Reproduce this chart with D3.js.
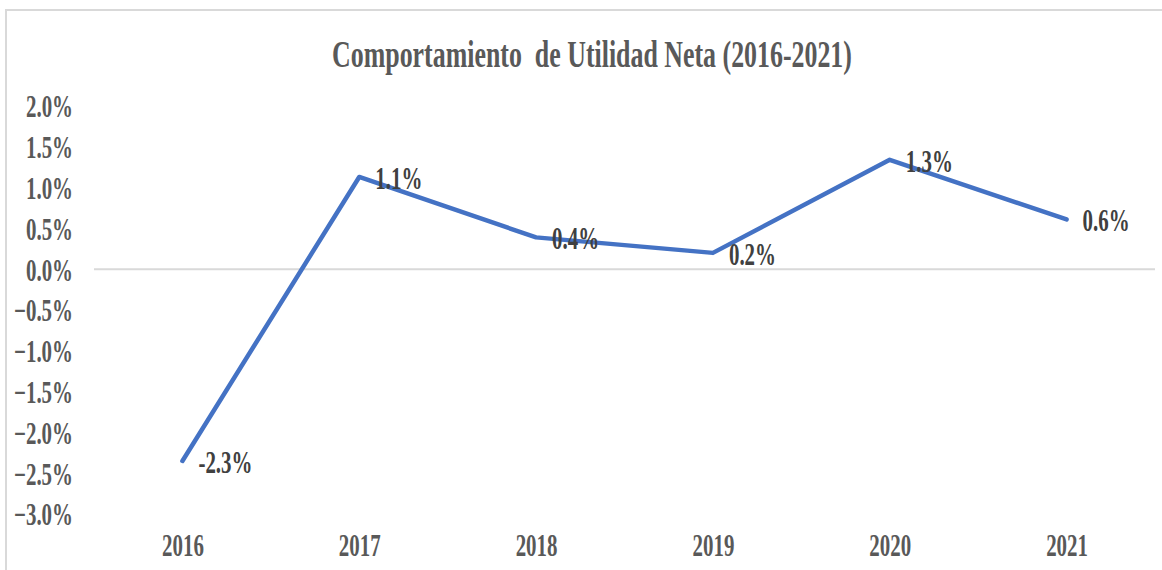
<!DOCTYPE html>
<html>
<head>
<meta charset="utf-8">
<script src="https://cdn.jsdelivr.net/npm/d3@7"></script>
<style>
  body { margin: 0; background: #fff; }
  svg { display: block; }
</style>
</head>
<body>
<svg id="chart" width="1162" height="570"></svg>
<script>
// data
var years = ["2016", "2017", "2018", "2019", "2020", "2021"];
var utilidad = [-2.35, 1.13, 0.39, 0.2, 1.34, 0.61];
var labels = ["-2.3%", "1.1%", "0.4%", "0.2%", "1.3%", "0.6%"];
var yTicks = [2.0, 1.5, 1.0, 0.5, 0.0, -0.5, -1.0, -1.5, -2.0, -2.5, -3.0];
var title = "Comportamiento\u00a0 de Utilidad Neta (2016-2021)";

var width = 1162, height = 570;
var font = "'Times New Roman', 'Liberation Serif', serif";
var sx = 0.675; // text in the source is squeezed horizontally
var fs = "31px";

var svg = d3.select("#chart");

// chart border (only top and left visible)
svg.append("rect")
    .attr("x", 6).attr("y", 10)
    .attr("width", width).attr("height", height)
    .attr("fill", "#fff")
    .attr("stroke", "#d9d9d9")
    .attr("stroke-width", 2);

var x = d3.scalePoint()
    .domain(years)
    .range([94, 1155])
    .padding(0.5);

var y = d3.scaleLinear()
    .domain([-3, 2])
    .range([514, 106]);

// title
svg.append("text")
    .attr("transform", "translate(592,67) scale(0.70,1)")
    .attr("text-anchor", "middle")
    .style("font-family", font)
    .style("font-weight", "bold")
    .style("font-size", "37px")
    .style("fill", "#595959")
    .text(title);

// zero line
svg.append("line")
    .attr("x1", x.range()[0]).attr("x2", x.range()[1])
    .attr("y1", y(0)).attr("y2", y(0))
    .attr("stroke", "#d9d9d9")
    .attr("stroke-width", 2);

// y axis
var yAxis = svg.append("g")
    .attr("transform", "translate(94,0)")
    .call(d3.axisLeft(y)
        .tickValues(yTicks)
        .tickSize(0)
        .tickFormat(function (d) { return d3.format(".1f")(d) + "%"; }));
yAxis.select(".domain").remove();
yAxis.selectAll("text")
    .attr("x", -21 / sx)
    .attr("dy", "0.35em")
    .attr("transform", "scale(" + sx + ",1)")
    .style("font-family", font)
    .style("font-weight", "bold")
    .style("font-size", fs)
    .style("fill", "#595959");

// x axis
var xAxis = svg.append("g")
    .attr("transform", "translate(0," + y(-3) + ")")
    .call(d3.axisBottom(x).tickSize(0));
xAxis.select(".domain").remove();
xAxis.selectAll("text")
    .attr("y", 31)
    .attr("dy", "0.35em")
    .attr("transform", "scale(" + sx + ",1)")
    .attr("x", 0)
    .style("font-family", font)
    .style("font-weight", "bold")
    .style("font-size", fs)
    .style("fill", "#595959");

// line
var pts = years.map(function (d, i) { return { year: d, value: utilidad[i], label: labels[i] }; });

svg.append("path")
    .datum(pts)
    .attr("fill", "none")
    .attr("stroke", "#4472c4")
    .attr("stroke-width", 4.5)
    .attr("stroke-linecap", "round")
    .attr("stroke-linejoin", "round")
    .attr("d", d3.line()
        .x(function (d) { return x(d.year); })
        .y(function (d) { return y(d.value); }));

// data labels, right of each point
svg.selectAll(".lbl")
    .data(pts)
    .enter().append("text")
    .attr("class", "lbl")
    .attr("transform", function (d) {
        return "translate(" + (x(d.year) + 16) + "," + (y(d.value) + 1) + ") scale(" + sx + ",1)";
    })
    .attr("dy", "0.35em")
    .style("font-family", font)
    .style("font-weight", "bold")
    .style("font-size", fs)
    .style("fill", "#404040")
    .text(function (d) { return d.label; });
</script>
</body>
</html>
